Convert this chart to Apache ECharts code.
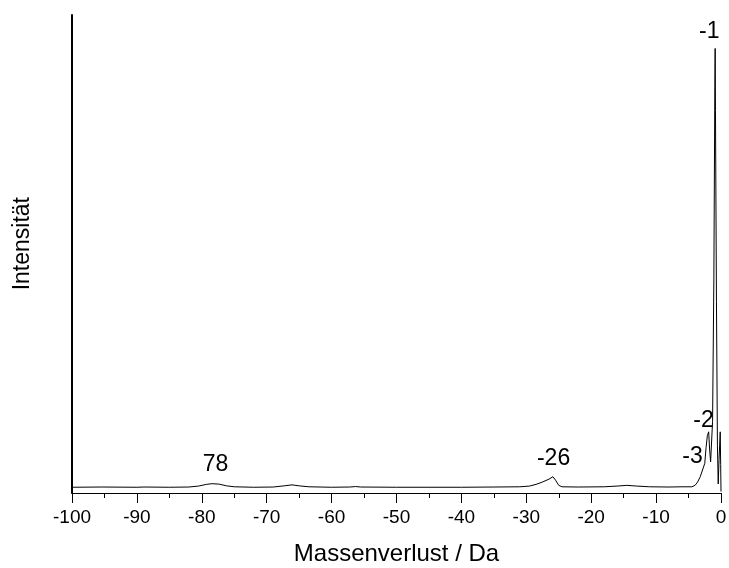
<!DOCTYPE html>
<html>
<head>
<meta charset="utf-8">
<script src="https://cdn.jsdelivr.net/npm/echarts@6/dist/echarts.min.js"></script>
<style>html,body{margin:0;padding:0;background:#fff}#c{width:729px;height:568px}</style>
</head>
<body>
<div id="c"></div>
<script>
// Mass loss (Da) and intensity
var massLoss = [-100, -95.4, -90, -88.9, -85, -82, -80.5, -79.3, -78.4, -77.3, -76.2, -75, -72, -69, -67.3, -66.1, -65, -63.5, -60, -57.2, -56.3, -55.5, -50, -45, -40, -35, -31, -29.5, -28.5, -27.5, -26.5, -25.9, -25.5, -25.0, -24.5, -22, -18, -16, -14.5, -13, -11, -8, -6, -4.5, -4.0, -3.6, -3.2, -2.9, -2.7, -2.5, -2.3, -2.1, -1.9, -1.75, -1.6, -1.5, -1.3, -1.1, -0.95, -0.9, -0.85, -0.7, -0.55, -0.43, -0.3, -0.12, -0.05, 0];
var intensity = [1.2, 1.25, 1.2, 1.25, 1.2, 1.25, 1.45, 1.8, 1.95, 1.85, 1.5, 1.3, 1.2, 1.25, 1.5, 1.7, 1.5, 1.3, 1.2, 1.25, 1.35, 1.25, 1.2, 1.2, 1.2, 1.25, 1.3, 1.45, 1.8, 2.3, 2.9, 3.4, 2.7, 1.6, 1.3, 1.25, 1.3, 1.45, 1.6, 1.45, 1.3, 1.25, 1.3, 1.3, 1.6, 2.3, 3.4, 4.6, 4.9, 6.2, 9.5, 12, 12.8, 9, 6.5, 6.5, 15, 45, 85, 93, 80, 40, 10, 1.9, 7, 12.8, 6, 0.3];
// peak annotations
var annoText = ['78', '-26', '-3', '-2', '-1'];
var annoX = [-77.9, -25.8, -4.4, -2.7, -1.8];
var annoY = [5.9, 7.1, 7.7, 15.1, 96.6];
// axis ticks
var xMin = -100, xMax = 0, xStep = 10;
var xTitle = 'Massenverlust / Da';
var yTitle = 'Intensität';

var FONT = 'Liberation Sans, Arial, sans-serif';
var chart = echarts.init(document.getElementById('c'));
var lineData = massLoss.map(function (x, i) { return [x, intensity[i]]; });
var marks = annoText.map(function (t, i) {
  return { coord: [annoX[i], annoY[i]], value: t };
});
chart.setOption({
  animation: false,
  backgroundColor: '#fff',
  grid: { left: 72, right: 8, top: 15, bottom: 75, containLabel: false, outerBoundsMode: 'none' },
  graphic: [{
    type: 'text', left: 11, top: 245 - 48, rotation: Math.PI / 2,
    style: { text: yTitle, fontFamily: FONT, fontSize: 23, fill: '#000' }
  }],
  xAxis: {
    type: 'value', min: xMin, max: xMax, interval: xStep,
    name: xTitle, nameLocation: 'middle', nameGap: 49,
    nameTextStyle: { fontFamily: FONT, fontSize: 24, color: '#000' },
    axisLine: { show: true, onZero: false, lineStyle: { color: '#000', width: 1 } },
    axisTick: { show: true, inside: false, length: 10, lineStyle: { color: '#000', width: 1 } },
    minorTick: { show: true, splitNumber: 2, length: 5, lineStyle: { color: '#000', width: 1 } },
    axisLabel: { fontFamily: FONT, fontSize: 19, color: '#000', margin: 15 },
    splitLine: { show: false }
  },
  yAxis: {
    type: 'value', min: 0, max: 100,
    axisLine: { show: true, onZero: false, lineStyle: { color: '#000', width: 2 } },
    axisTick: { show: false },
    axisLabel: { show: false },
    splitLine: { show: false }
  },
  series: [{
    type: 'line',
    data: lineData,
    showSymbol: false,
    symbol: 'none',
    lineStyle: { color: '#000', width: 1 },
    markPoint: {
      symbol: 'circle', symbolSize: 0,
      label: { show: true, position: 'inside', formatter: function (p) { return p.value; },
        fontFamily: FONT, fontSize: 23, color: '#000' },
      data: marks
    }
  }]
});
</script>
</body>
</html>
